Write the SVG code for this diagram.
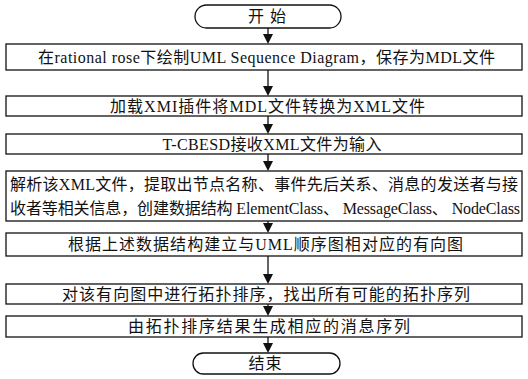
<svg xmlns="http://www.w3.org/2000/svg" width="528" height="379" viewBox="0 0 528 379">
<defs>
<marker id="ah" markerWidth="10" markerHeight="11" refX="5" refY="10" orient="auto-start-reverse" markerUnits="userSpaceOnUse" viewBox="0 0 10 11">
<path d="M0,0 L10,0 L5,10 Z" fill="#111" transform="rotate(0)"/>
</marker>
<style>
.box{fill:#fff;stroke:#111;stroke-width:1.3}
.t{font-family:"Liberation Serif","Noto Sans CJK SC",serif;font-size:16px;fill:#111}
.c{text-anchor:middle}
.ln{stroke:#111;stroke-width:1.3;fill:none}
.hd{fill:#111}
</style>
</defs>
<rect width="528" height="379" fill="#fff"/>
<g id="start">
<rect class="box" x="195" y="5" width="146" height="23" rx="11.5"/>
<text class="t c" x="267" y="22" textLength="38" lengthAdjust="spacing">开始</text>
</g>
<g id="step1">
<rect class="box" x="6" y="44" width="516" height="26"/>
<text class="t c" x="266.5" y="63" textLength="457" lengthAdjust="spacing">在rational rose下绘制UML Sequence Diagram，保存为MDL文件</text>
</g>
<g id="step2">
<rect class="box" x="6" y="96" width="516" height="20"/>
<text class="t c" x="267.5" y="112" textLength="315" lengthAdjust="spacing">加载XMI插件将MDL文件转换为XML文件</text>
</g>
<g id="step3">
<rect class="box" x="6" y="134" width="516" height="20"/>
<text class="t c" x="272" y="150" textLength="219" lengthAdjust="spacing">T-CBESD接收XML文件为输入</text>
</g>
<g id="step4">
<rect class="box" x="6" y="171" width="516" height="50"/>
<text class="t" x="10" y="190" textLength="508" lengthAdjust="spacing">解析该XML文件，提取出节点名称、事件先后关系、消息的发送者与接</text>
<text class="t" x="10" y="214" textLength="510" lengthAdjust="spacing">收者等相关信息，创建数据结构 ElementClass、 MessageClass、 NodeClass</text>
</g>
<g id="step5">
<rect class="box" x="6" y="233" width="516" height="23"/>
<text class="t c" x="265.5" y="250" textLength="395" lengthAdjust="spacing">根据上述数据结构建立与UML顺序图相对应的有向图</text>
</g>
<g id="step6">
<rect class="box" x="6" y="284" width="516" height="20"/>
<text class="t c" x="266" y="300" textLength="408" lengthAdjust="spacing">对该有向图中进行拓扑排序，找出所有可能的拓扑序列</text>
</g>
<g id="step7">
<rect class="box" x="6" y="316" width="516" height="21"/>
<text class="t c" x="269" y="332" textLength="282" lengthAdjust="spacing">由拓扑排序结果生成相应的消息序列</text>
</g>
<g id="end">
<rect class="box" x="193" y="353" width="147" height="21" rx="10.5"/>
<text class="t c" x="265" y="369" textLength="33" lengthAdjust="spacing">结束</text>
</g>
<g id="connectors">
<line class="ln" x1="268" y1="28" x2="268" y2="34"/><path class="hd" d="M263,34 L273,34 L268,44 Z"/>
<line class="ln" x1="268" y1="70" x2="268" y2="86"/><path class="hd" d="M263,86 L273,86 L268,96 Z"/>
<line class="ln" x1="268" y1="116" x2="268" y2="124"/><path class="hd" d="M263,124 L273,124 L268,134 Z"/>
<line class="ln" x1="268" y1="154" x2="268" y2="161"/><path class="hd" d="M263,161 L273,161 L268,171 Z"/>
<line class="ln" x1="268" y1="221" x2="268" y2="223"/><path class="hd" d="M263,223 L273,223 L268,233 Z"/>
<line class="ln" x1="268" y1="256" x2="268" y2="274"/><path class="hd" d="M263,274 L273,274 L268,284 Z"/>
<line class="ln" x1="268" y1="304" x2="268" y2="306"/><path class="hd" d="M263,306 L273,306 L268,316 Z"/>
<line class="ln" x1="268" y1="337" x2="268" y2="343"/><path class="hd" d="M263,343 L273,343 L268,353 Z"/>
</g>
</svg>
